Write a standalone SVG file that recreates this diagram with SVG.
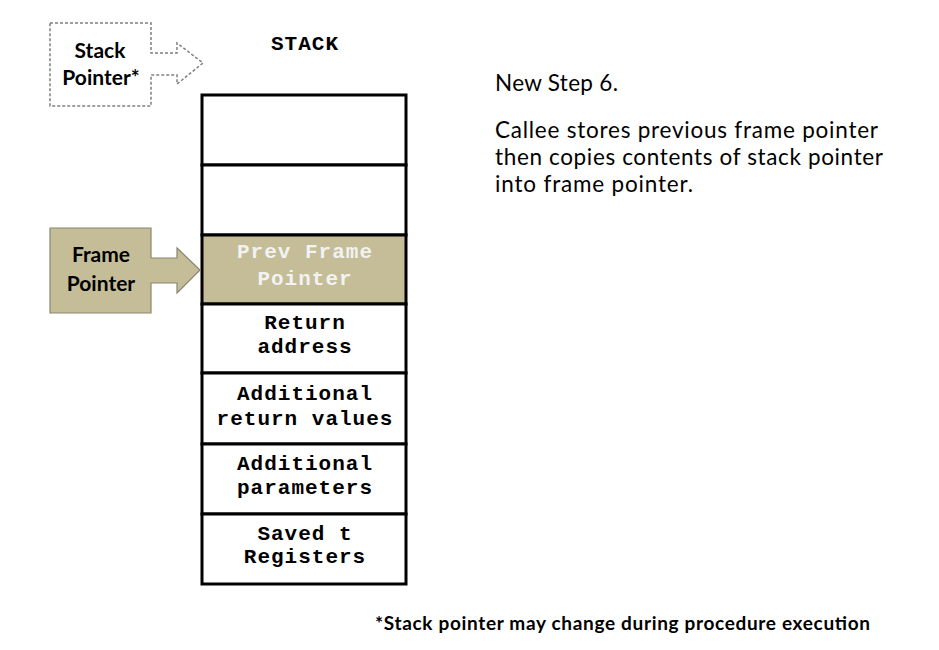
<svg xmlns="http://www.w3.org/2000/svg" width="939" height="650" viewBox="0 0 939 650">
<style>
.cell{fill:#ffffff;stroke:#000000;stroke-width:3}
.beige{fill:#c4bd97;stroke:#000000;stroke-width:3}
.mono{font-family:"Liberation Mono","Courier New",monospace;font-weight:bold;font-size:21px;letter-spacing:1px;text-anchor:middle;fill:#000000}
.light{fill:#f2f2f2}
.lbl{font-family:Lato,"Open Sans",sans-serif;font-weight:bold;font-size:21px;text-anchor:middle;fill:#000000}
.body{font-family:Lato,"Open Sans",sans-serif;font-size:22.5px;fill:#000000}
.note{font-family:Lato,"Open Sans",sans-serif;font-weight:bold;font-size:19px;fill:#000000}
</style>
<rect width="939" height="650" fill="#ffffff"/>
<g id="stack-title"><text class="mono" x="305" y="50">STACK</text></g>
<g id="stack">
<rect id="cell1" class="cell" x="202" y="95" width="204" height="70"/>
<rect id="cell2" class="cell" x="202" y="165" width="204" height="70"/>
<g id="cell-prev-frame"><rect class="beige" x="202" y="235" width="204" height="69"/>
<text class="mono light" x="305" y="258">Prev Frame</text><text class="mono light" x="305" y="285">Pointer</text></g>
<g id="cell-return"><rect class="cell" x="202" y="304" width="204" height="69"/>
<text class="mono" x="305" y="329">Return</text><text class="mono" x="305" y="353">address</text></g>
<g id="cell-retvals"><rect class="cell" x="202" y="373" width="204" height="71"/>
<text class="mono" x="305" y="400">Additional</text><text class="mono" x="305" y="425">return values</text></g>
<g id="cell-params"><rect class="cell" x="202" y="444" width="204" height="70"/>
<text class="mono" x="305" y="470">Additional</text><text class="mono" x="305" y="494">parameters</text></g>
<g id="cell-saved"><rect class="cell" x="202" y="514" width="204" height="70"/>
<text class="mono" x="305" y="540">Saved t</text><text class="mono" x="305" y="563">Registers</text></g>
</g>
<g id="stack-pointer">
<path d="M50,23 H151 V53 H177 V43 L203,63 L177,84 V75 H151 V106 H50 Z" fill="#ffffff" stroke="#808080" stroke-width="1.5" stroke-dasharray="3,2"/>
<text class="lbl" x="100" y="58">Stack</text><text class="lbl" x="101" y="85">Pointer*</text>
</g>
<g id="frame-pointer">
<path d="M50,228 H151 V258 H177 V248 L200,270 L177,293 V283 H151 V313 H50 Z" fill="#c4bd97" stroke="#8a8670" stroke-width="1.2"/>
<text class="lbl" x="101" y="262">Frame</text><text class="lbl" x="101" y="291">Pointer</text>
</g>
<g id="connectors"></g>
<g id="description">
<text class="body" x="495" y="91" textLength="123">New Step 6.</text>
<text class="body" x="495" y="138" textLength="383">Callee stores previous frame pointer</text>
<text class="body" x="495" y="165" textLength="388">then copies contents of stack pointer</text>
<text class="body" x="495" y="192" textLength="198">into frame pointer.</text>
</g>
<g id="footnote"><text class="note" x="375" y="630" textLength="495">*Stack pointer may change during procedure execution</text></g>
</svg>
